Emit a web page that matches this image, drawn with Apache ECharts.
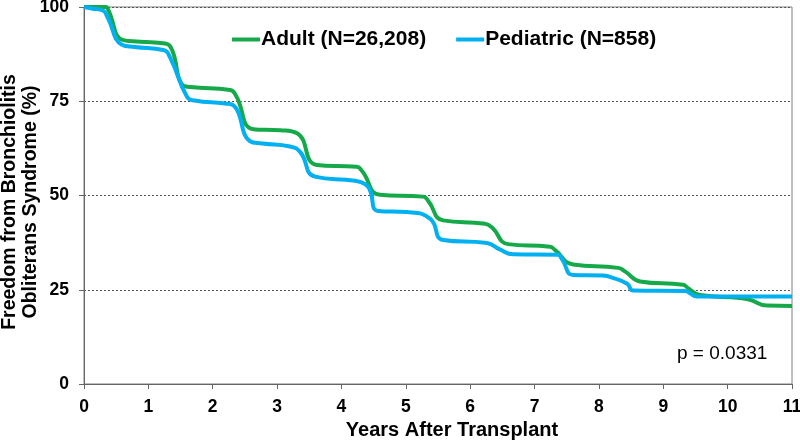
<!DOCTYPE html>
<html>
<head>
<meta charset="utf-8">
<script src="https://cdn.jsdelivr.net/npm/echarts@6/dist/echarts.min.js"></script>
<style>html,body{margin:0;padding:0;background:#fff;}#c{width:800px;height:440px;}</style>
</head>
<body>
<div id="c"></div>
<script>
var xTicks = [0,1,2,3,4,5,6,7,8,9,10,11];
var yTicks = [0,25,50,75,100];
var seriesNames = ['Adult (N=26,208)', 'Pediatric (N=858)'];
var adultYears = [0,0.34,0.37,0.61,0.87,1.26,1.37,1.52,1.65,2.27,2.36,2.63,3.05,3.31,3.62,4.24,4.32,4.60,5.27,5.35,5.58,6.23,6.34,6.59,7.24,7.32,7.60,8.30,8.41,8.64,9.31,9.38,9.57,10.19,10.35,10.61,11.0];
var adultSurv  = [100,100,99.5,91.2,90.8,90.3,88.5,79.5,78.8,78.0,76.5,67.6,67.3,66.5,58.1,57.6,56.5,50.2,49.7,48.5,43.4,42.5,41.5,37.1,36.4,35.5,31.7,30.8,29.8,27.2,26.3,25.5,23.6,22.8,22.3,20.8,20.7];
var pedYears = [0,0.12,0.30,0.36,0.59,0.79,1.23,1.34,1.60,1.72,2.19,2.33,2.58,2.77,3.20,3.36,3.59,4.21,4.37,4.44,4.57,5.02,5.38,5.58,6.26,6.46,6.67,7.36,7.43,7.60,8.06,8.17,8.44,8.53,9.34,9.42,9.52,11.0];
var pedSurv  = [100,99.6,99.0,97.5,90.0,89.4,88.6,86.5,76.2,75.2,74.4,73.8,64.4,63.8,63.0,61.5,55.0,53.9,53.0,51.5,45.9,45.6,43.8,38.2,37.4,35.7,34.4,34.3,33.0,28.9,28.8,28.4,26.6,24.8,24.7,24.0,23.2,23.2];
var xTitle = 'Years After Transplant';
var yTitle = 'Freedom from Bronchiolitis\nObliterans Syndrome (%)';
var pValueText = 'p = 0.0331';

function pairs(xs, ys){ return xs.map(function(x,i){ return [x, ys[i]]; }); }

var FF = 'Liberation Sans, Arial, sans-serif';
var chart = echarts.init(document.getElementById('c'), null, {renderer:'canvas'});
var bold = {fontFamily:FF, fontWeight:'bold', color:'#000'};
chart.setOption({
  animation:false,
  backgroundColor:'#fff',
  grid:{left:84, right:8, top:7, bottom:56, containLabel:false, outerBoundsMode:'none', show:true, borderColor:'#808080', borderWidth:1},
  legend:{
    left:232, top:29, padding:0, itemGap:30, itemWidth:28, itemHeight:4, icon:'rect',
    textStyle:{fontFamily:FF, fontWeight:'bold', fontSize:21, color:'#000', padding:[0,0,0,-4]},
    data:seriesNames
  },
  xAxis:{
    type:'value', min:0, max:11, interval:1,
    name:xTitle, nameLocation:'middle', nameGap:34,
    nameTextStyle:Object.assign({fontSize:20, padding:[0,0,0,28]}, bold),
    axisLine:{show:true, lineStyle:{color:'#666', width:1}},
    axisTick:{show:true, length:5, lineStyle:{color:'#666'}},
    axisLabel:Object.assign({fontSize:17.5, margin:14}, bold),
    splitLine:{show:false}
  },
  yAxis:{
    type:'value', min:0, max:100, interval:25,
    axisLine:{show:true, lineStyle:{color:'#666', width:1}},
    axisTick:{show:true, length:5, lineStyle:{color:'#666'}},
    axisLabel:Object.assign({fontSize:17.5, margin:15}, bold),
    splitLine:{show:true, lineStyle:{color:'#555', type:[2,2], width:1}}
  },
  graphic:[
    {type:'text', x:20, y:202, rotation:Math.PI/2,
     style:{text:yTitle, font:'bold 19.5px ' + FF, lineHeight:21, fill:'#000', textAlign:'center', textVerticalAlign:'middle'}},
    {type:'text', left:677, top:344,
     style:{text:pValueText, fontFamily:FF, fontSize:19, fill:'#000'}}
  ],
  series:[
    {name:seriesNames[0], type:'line', data:pairs(adultYears, adultSurv), showSymbol:false, smooth:0.5,
     lineStyle:{color:'#16a94a', width:4}, itemStyle:{color:'#16a94a'}, z:3},
    {name:seriesNames[1], type:'line', data:pairs(pedYears, pedSurv), showSymbol:false, smooth:0.5,
     lineStyle:{color:'#00b0f0', width:4}, itemStyle:{color:'#00b0f0'}, z:4}
  ]
});
</script>
</body>
</html>
